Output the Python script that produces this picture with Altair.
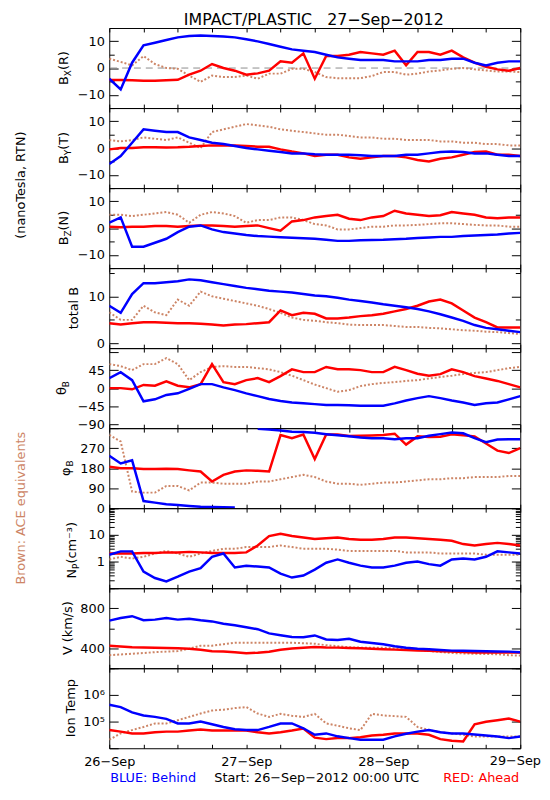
import altair as alt
import pandas as pd

# ---------------- data (2-hourly readings, hours since 26-Sep 00:00 UTC) ----------------
HOURS = list(range(0, 73, 2))
X_TICKS = list(range(0, 73, 6))
DAY_LABELS = ["26−Sep", "27−Sep", "28−Sep", "29−Sep"]
TITLE = "IMPACT/PLASTIC\u00a0\u00a0\u00a027−Sep−2012"
START_TEXT = "Start: 26−Sep−2012 00:00 UTC"

BX_BROWN = [3.5, 2.3, 1, 4.5, 1.5, 0, -0.3, -2.8, -5.2, -2.8, -3.4, -3.4, -2.8, -4, -2.1, -2.1, -0.3, -0.3, -1.5,
            -3.4, -3.8, -3.8, -3.8, -3, -1.5, -1.5, -2.5, -2.1, -1.3, -0.9, -0.3, 0, -0.5, -0.9, -1.3, -1.3, -1.5]
BX_RED = [-4.5, -4.5, -4.6, -4.8, -4.8, -4.6, -4.4, -2.5, -1, 1.5, 0, -1, -2.5, -2, -1, 2.5, 2, 5.5, -4,
          4.5, 4.5, 5, 6, 5.5, 5, 6.5, 1, 6, 6, 5, 6.5, 4, 2, 0.5, -0.5, -1, 0]
BX_BLUE = [-4, -8, 2, 8.5, 9.5, 10.5, 11.5, 12, 12.2, 12, 11.8, 11.5, 10.8, 10, 9, 8, 7, 6.5, 6,
           5, 4, 3.5, 3, 3, 3, 2.5, 2.5, 2.5, 3, 3, 3.5, 3.5, 2, 1, 2, 2.5, 2.5]

BY_BROWN = [3, 2.5, 3, 4, 3.5, 3, 4, 2, 0, 6, 7, 8, 9, 8.5, 8, 7, 6.5, 6, 5.5,
            5, 5, 4.5, 4, 4, 3.5, 3.5, 3, 3, 3, 2.5, 2.5, 2, 2, 1.5, 1.5, 1, 1]
BY_RED = [-0.5, 0, 0, 0.3, 0.3, 0.2, 0.3, 0.5, 0.8, 1, 1, 1, 0.8, 0.5, 0.5, -0.5, -1.3, -2, -3,
          -2.5, -2.5, -3.5, -4, -3.5, -3, -3, -3.5, -4.5, -5, -4, -3.5, -2.5, -1.5, -1.3, -2.5, -2.5, -3]
BY_BLUE = [-6, -3, 2, 7, 6.5, 6, 6, 4, 3, 2, 1.5, 0.8, 0, -0.5, -1, -1.5, -2, -2, -2.3,
           -2.5, -2.5, -2.5, -2.7, -3, -3, -3, -2.5, -2.5, -2, -1.5, -1.3, -1.5, -2, -2, -2.5, -3, -3]

BZ_BROWN = [5, 5, 4.5, 5, 5.5, 6, 5, 2, 5, 6, 5.5, 4.5, 2, 3, 3, 4, 4, 3, 1.5,
            1, -0.5, -0.5, 0, 0.5, 0.5, 1, 1, 1.2, 1.5, 1.8, 1.8, 1.5, 1.2, 1, 1, 0.5, 0.5]
BZ_RED = [0.5, 0.3, 0.5, 0.5, 0.8, 0.8, 0.5, 0.8, 1, 1, 0.8, 0.5, 0.8, 1, 0, -1, 2.5, 3, 4,
          4.5, 5, 3.5, 3, 4, 4.5, 6.5, 5.5, 5, 4.5, 4.8, 6, 5.5, 5, 4, 3.7, 4, 4]
BZ_BLUE = [2, 4, -7, -7, -5.5, -4, -1.5, 0.5, 1, -0.5, -1.5, -2, -2.6, -3, -3.2, -3.4, -3.6, -3.8, -4,
           -4.4, -4.8, -4.8, -4.6, -4.5, -4.4, -4.2, -4, -3.7, -3.5, -3.3, -3.3, -3, -2.8, -2.6, -2.4, -2, -1.8]

TB_BROWN = [6.6, 5, 5, 8, 6.6, 6, 9.3, 8, 11, 10, 9.5, 9, 8.5, 8, 7.3, 6.5, 5.5, 5, 4.8,
            4.5, 4.3, 4, 3.9, 3.9, 3.9, 3.7, 3.5, 3.5, 3.3, 3.2, 3, 2.8, 2.7, 2.5, 2.4, 2.2, 2]
TB_RED = [4.3, 4, 4.3, 4.5, 4.5, 4.4, 4.3, 4.3, 4.2, 4, 3.8, 4, 4.1, 4.3, 4.5, 7, 6, 6.5, 6.3,
          5.3, 5.3, 5.5, 5.8, 6, 6.3, 6.8, 7.3, 8, 8.9, 9.3, 8.5, 7, 5.5, 4.5, 3.4, 3.4, 3.4]
TB_BLUE = [8, 6.5, 10.5, 12.8, 12.8, 13, 13.2, 13.6, 13.4, 13, 12.6, 12.2, 11.8, 11.5, 11.2, 11, 10.8, 10.5, 10.2,
           10, 9.7, 9.3, 9, 8.7, 8.3, 8, 7.7, 7.3, 6.8, 6.2, 5.5, 4.8, 3.9, 3.3, 3, 2.7, 2.4]

TH_BROWN = [60, 55, 45, 60, 60, 75, 60, 20, 40, 53, 55, 53, 53, 50, 47, 40, 31, 20, 9,
            0, -9, -5, 5, 10, 13, 15, 18, 20, 24, 28, 31, 35, 38, 40, 45, 50, 53]
TH_RED = [0, 0, -3, 8, 6, 17, 6, 2, 10, 60, 15, 10, 20, 25, 15, 30, 47, 40, 40,
          53, 47, 47, 45, 40, 40, 53, 45, 36, 31, 35, 47, 40, 30, 24, 18, 10, 2]
TH_BLUE = [25, 40, 20, -33, -28, -17, -13, -2, 10, 10, 2, -5, -13, -20, -27, -32, -36, -38, -40,
           -42, -42, -43, -44, -44, -44, -38, -31, -25, -20, -25, -31, -36, -42, -38, -36, -28, -20]

PH_BROWN = [330, 300, 75, 70, 70, 100, 100, 80, 115, 115, 110, 110, 110, 120, 120, 130, 140, 150, 140,
            120, 110, 110, 105, 110, 115, 115, 120, 125, 130, 130, 135, 135, 140, 140, 140, 145, 145]
PH_RED = [186, 180, 180, 176, 176, 177, 176, 170, 165, 120, 150, 165, 170, 168, 165, 329, 315, 331, 221,
          331, 331, 325, 326, 327, 329, 335, 286, 323, 320, 321, 332, 328, 323, 291, 259, 248, 270]
PH_BLUE = [236, 201, 215, 32, 25, 18, 14, 10, 6, 5, 4, 3, None, 357, 354, 349, 344, 343, 339,
           333, 328, 324, 318, 315, 315, 310, 315, 315, 326, 333, 340, 337, 315, 297, 309, 310, 310]

NP_BROWN = [1.2, 1.5, 1.3, 1.5, 2, 2.5, 2, 1.5, 2, 2.5, 3, 3, 3.5, 3.5, 3.5, 4, 3.5, 3, 3,
            3, 2.8, 2.5, 2.5, 2.5, 2.5, 2.5, 2.2, 2.2, 2.2, 2, 2, 2, 2, 1.8, 1.8, 1.8, 1.8]
NP_RED = [2, 2, 2, 2.1, 2.1, 2.2, 2.2, 2.3, 2.2, 2.1, 2.1, 2.1, 2.2, 4, 9, 11, 9, 8, 7,
          7.5, 8, 7, 6.5, 6.5, 7, 8, 8, 7.5, 7, 6.5, 6, 4.5, 4, 4.5, 5, 4.5, 4]
NP_BLUE = [1.8, 2.4, 2.4, 0.42, 0.24, 0.18, 0.27, 0.42, 0.56, 1.5, 2, 0.6, 0.7, 0.65, 0.6, 0.35, 0.25, 0.3, 0.5,
           0.9, 1.2, 0.9, 0.7, 0.6, 0.6, 0.7, 0.9, 1, 0.8, 0.7, 1.2, 1.3, 1.2, 1.5, 2.4, 2.2, 2]

V_BROWN = [330, 338, 345, 352, 361, 366, 371, 395, 425, 425, 440, 455, 455, 455, 455, 455, 455, 450, 445,
           430, 420, 410, 406, 406, 406, 398, 392, 385, 372, 362, 352, 348, 345, 342, 340, 330, 326]
V_RED = [425, 418, 410, 407, 405, 402, 400, 395, 385, 370, 368, 360, 350, 355, 365, 385, 397, 405, 413,
         408, 406, 402, 400, 395, 390, 386, 382, 378, 375, 370, 366, 362, 358, 358, 358, 358, 358]
V_BLUE = [676, 702, 720, 680, 686, 702, 686, 695, 680, 668, 645, 630, 610, 590, 548, 530, 512, 510, 528,
          487, 483, 495, 465, 452, 440, 420, 405, 395, 390, 383, 376, 374, 372, 370, 368, 366, 360]

TI_BROWN = [2.1e4, 3.6e4, 4.8e4, 6.3e4, 8.5e4, 8.5e4, 1.12e5, 1.5e5, 2e5, 2.6e5, 2.8e5, 3.2e5, 3.5e5, 2e5,
            1.5e5, 1.95e5, 1.65e5, 1.5e5, 1.95e5, 8.5e4, 7e4, 5.6e4, 4.8e4, 1.95e5, 1.7e5, 1.6e5, 1.5e5,
            6.3e4, 4.8e4, 4e4, 3.6e4, 3.2e4, 2.75e4, 2.75e4, 2.75e4, 2.75e4, 2.75e4]
TI_RED = [4.8e4, 4.2e4, 3.6e4, 3.6e4, 4e4, 4.2e4, 4.2e4, 4.6e4, 5e4, 4.6e4, 4.6e4, 4.6e4, 4.6e4, 4e4,
          3.6e4, 4e4, 4.6e4, 5.5e4, 2.5e4, 2.2e4, 2.4e4, 2.4e4, 2.6e4, 3e4, 3.2e4, 3.6e4, 3.6e4,
          3.6e4, 3.2e4, 2.2e4, 1.9e4, 1.8e4, 7.9e4, 9.8e4, 1.12e5, 1.29e5, 1e5]
TI_BLUE = [4.3e5, 3.5e5, 2.2e5, 1.7e5, 1.5e5, 1.26e5, 8.5e4, 8.5e4, 1e5, 7.9e4, 6.3e4, 5.2e4, 4.8e4, 4.8e4,
           6.3e4, 8.5e4, 8.5e4, 5.6e4, 3.2e4, 3.6e4, 2.8e4, 2.4e4, 2.1e4, 2.1e4, 2.1e4, 2.8e4, 3.5e4,
           4.2e4, 4.8e4, 4e4, 3.6e4, 3.6e4, 3.3e4, 3e4, 2.75e4, 2.4e4, 2.75e4]

# ---------------- style ----------------
BROWN = "#cd8566"
RED = "#ff0000"
BLUE = "#0000ff"
FONT = "DejaVu Sans"
W = 416
H = 81

EM = {" ": 0.318, "(": 0.390, ")": 0.390, "B": 0.686, "R": 0.695, "T": 0.611, "N": 0.748,
      "X": 0.685, "Y": 0.611, "Z": 0.685, "P": 0.603, "c": 0.550, "m": 0.974, "⁻": 0.53,
      "³": 0.401, "θ": 0.602, "φ": 0.75}


def tw(s, size):
    return sum(EM.get(ch, 0.6) for ch in s) * size


def series_df(vals):
    return pd.DataFrame({"t": HOURS, "v": vals})


def label_expr(mapping):
    expr = "''"
    for val, txt in reversed(list(mapping.items())):
        expr = f"datum.value == {val} ? '{txt}' : {expr}"
    return expr


def text_layer(txt, x, y, size=13, color="black", angle=0, align="center", baseline="middle"):
    kw = dict(font=FONT, fontSize=size, color=color, align=align, baseline=baseline)
    if angle:
        kw["angle"] = angle
    return alt.Chart(pd.DataFrame({"txt": [txt]})).mark_text(**kw).encode(
        text="txt:N", x=alt.value(x), y=alt.value(y))


def ytitle(segments, cx):
    total = sum(tw(s, sz) for s, sz, dx in segments)
    y = H / 2 + total / 2
    out = []
    for s, sz, dx in segments:
        out.append(text_layer(s, cx + dx, y, size=sz, angle=270, align="left"))
        y -= tw(s, sz)
    return out


def panel(brown, red, blue, domain, major, minor, labels, title, cx,
          scale_type="linear", zero_line=False, bottom=False, extras=()):
    xs = alt.Scale(domain=[0, 72], nice=False, zero=False)
    if scale_type == "log":
        ys = alt.Scale(domain=domain, type="log", nice=False)
    else:
        ys = alt.Scale(domain=domain, nice=False, zero=False)

    def enc(ch, xaxis=None, yaxis=None):
        return ch.encode(x=alt.X("t:Q", scale=xs, axis=xaxis),
                         y=alt.Y("v:Q", scale=ys, axis=yaxis))

    layers = []
    if zero_line:
        layers.append(alt.Chart(pd.DataFrame({"v": [0]})).mark_rule(
            color="#8c8c8c", strokeDash=[7, 5], strokeWidth=1).encode(
            y=alt.Y("v:Q", scale=ys, axis=None)))
    layers.append(enc(alt.Chart(series_df(brown)).mark_line(
        color=BROWN, strokeWidth=2, strokeDash=[2, 2], clip=True)))
    layers.append(enc(alt.Chart(series_df(red)).mark_line(color=RED, strokeWidth=2.5, clip=True)))
    layers.append(enc(alt.Chart(series_df(blue)).mark_line(color=BLUE, strokeWidth=2.5, clip=True)))

    ghost = alt.Chart(series_df(red)).mark_point(opacity=0, clip=True)
    common = dict(domain=False, grid=False, title=None, tickColor="black", tickWidth=1,
                  minExtent=0)
    layers.append(enc(ghost, yaxis=alt.Axis(
        orient="left", values=major, tickSize=9, offset=-9, labels=True,
        labelExpr=label_expr(labels), labelPadding=5, labelOverlap=False, labelFlush=False,
        labelFont=FONT, labelFontSize=13, labelColor="black", **common)))
    layers.append(enc(ghost, yaxis=alt.Axis(
        orient="right", values=major, tickSize=9, offset=-9, labels=False, **common)))
    if minor:
        layers.append(enc(ghost, yaxis=alt.Axis(
            orient="left", values=minor, tickSize=5, offset=-5, labels=False, **common)))
        layers.append(enc(ghost, yaxis=alt.Axis(
            orient="right", values=minor, tickSize=5, offset=-5, labels=False, **common)))
    layers.append(enc(ghost, xaxis=alt.Axis(
        orient="top", values=X_TICKS, tickSize=4, offset=-4, labels=False, **common)))
    if bottom:
        # the last day label is drawn as a text so that it stays inside the page
        day_map = {24 * i: lab for i, lab in enumerate(DAY_LABELS[:-1])}
        layers.append(enc(ghost, xaxis=alt.Axis(
            orient="bottom", values=X_TICKS, tickSize=4, offset=-4, labels=True,
            labelExpr=label_expr(day_map), labelPadding=7, labelOverlap=False, labelFlush=False,
            labelFont=FONT, labelFontSize=13, labelColor="black", **common)))
        layers.append(text_layer(DAY_LABELS[-1], W + 21, H + 7, align="right", baseline="top"))
    else:
        layers.append(enc(ghost, xaxis=alt.Axis(
            orient="bottom", values=X_TICKS, tickSize=4, offset=-4, labels=False, **common)))

    if isinstance(title, str):
        layers.append(text_layer(title, cx, H / 2, angle=270))
    else:
        layers.extend(ytitle(title, cx))
    layers.extend(extras)

    return alt.layer(*layers).resolve_axis(x="independent", y="independent").properties(
        width=W, height=H)


B_LAB = {-10: "−10", 0: "0", 10: "10"}

panels = [
    panel(BX_BROWN, BX_RED, BX_BLUE, [-15, 15], [-10, 0, 10], [-15, -5, 5, 15], B_LAB,
          [("B", 13, 0), ("X", 9, 4), ("(R)", 13, 0)], -46, zero_line=True,
          extras=[text_layer(TITLE, W / 2 - 1, -3.5, size=16, baseline="alphabetic")]),
    panel(BY_BROWN, BY_RED, BY_BLUE, [-15, 15], [-10, 0, 10], [-15, -5, 5, 15], B_LAB,
          [("B", 13, 0), ("Y", 9, 4), ("(T)", 13, 0)], -46,
          extras=[text_layer("(nanoTesla, RTN)", -89.5, 78, angle=270)]),
    panel(BZ_BROWN, BZ_RED, BZ_BLUE, [-15, 15], [-10, 0, 10], [-15, -5, 5, 15], B_LAB,
          [("B", 13, 0), ("Z", 9, 4), ("(N)", 13, 0)], -46),
    panel(TB_BROWN, TB_RED, TB_BLUE, [-1, 16], [0, 10], [5, 15], {0: "0", 10: "10"},
          "total B", -36),
    panel(TH_BROWN, TH_RED, TH_BLUE, [-100, 100], [-90, -45, 0, 45, 90], [],
          {-90: "−90", -45: "−45", 0: "0", 45: "45"},
          [("θ", 13, 0), ("B", 9, 4)], -48),
    panel(PH_BROWN, PH_RED, PH_BLUE, [0, 360], [0, 90, 180, 270, 360], [],
          {0: "0", 90: "90", 180: "180", 270: "270"},
          [("φ", 13, 0), ("B", 9, 4)], -44,
          extras=[text_layer("Brown: ACE equivalents", -89, H, color=BROWN, angle=270)]),
    panel(NP_BROWN, NP_RED, NP_BLUE, [0.1, 100], [0.1, 1, 10, 100],
          [0.2, 0.3, 0.4, 0.5, 0.6, 0.7, 0.8, 0.9, 2, 3, 4, 5, 6, 7, 8, 9,
           20, 30, 40, 50, 60, 70, 80, 90], {1: "1", 10: "10"},
          [("N", 13, 0), ("P", 9, 4), (" (cm⁻³)", 13, 0)], -38, scale_type="log"),
    panel(V_BROWN, V_RED, V_BLUE, [200, 1000], [400, 800], [200, 600, 1000],
          {400: "400", 800: "800"}, "V (km/s)", -42),
    panel(TI_BROWN, TI_RED, TI_BLUE, [1e4, 1e7], [1e4, 1e5, 1e6, 1e7], [],
          {100000: "10⁵", 1000000: "10⁶"}, "Ion Temp", -39, scale_type="log", bottom=True,
          extras=[text_layer("BLUE: Behind", 1, 111, color=BLUE, align="left"),
                  text_layer(START_TEXT, 210, 111),
                  text_layer("RED: Ahead", 415, 111, color=RED, align="right")]),
]

chart = alt.vconcat(*panels, spacing=0, bounds="flush").properties(
    padding={"left": 6.5, "top": -1.5, "right": 0, "bottom": 0}
).configure_view(stroke="black", strokeWidth=1).configure_axis(
    labelFont=FONT, labelFontSize=13, labelColor="black", tickColor="black", minExtent=0)

chart.save("out.html", embed_options={"renderer": "svg", "actions": False})
